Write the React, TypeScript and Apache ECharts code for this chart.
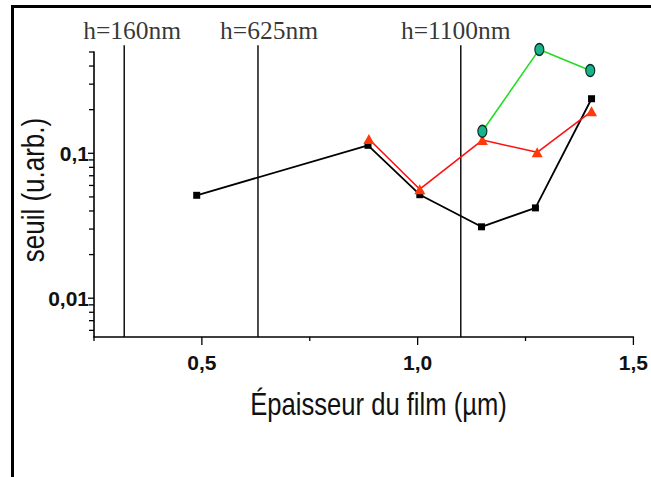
import React, { useEffect, useRef } from "react";
import * as echarts from "echarts";

// ---- data ----
const xMin = 0.25;
const xMax = 1.5;
const yMin = 0.0054;
const yMax = 0.5;

const thicknessBlack = [0.488, 0.885, 1.005, 1.148, 1.273, 1.403];
const seuilBlack = [0.0513, 0.1135, 0.0518, 0.0311, 0.042, 0.238];

const thicknessRed = [0.887, 1.005, 1.15, 1.277, 1.403];
const seuilRed = [0.1256, 0.0565, 0.1235, 0.1016, 0.195];

const thicknessGreen = [1.15, 1.282, 1.4];
const seuilGreen = [0.142, 0.521, 0.373];

const vlineX = [0.32, 0.63, 1.1];
const vlineTop = 0.556;
const vlineLabels = ["h=160nm", "h=625nm", "h=1100nm"];
const vlineLabelDx = [8, 11, -5];

const xMajorTicks = [0.5, 1.0, 1.5];
const xMajorLabels = ["0,5", "1,0", "1,5"];
const xMinorTicks = [0.25, 0.75, 1.25];

const yMajorTicks = [0.01, 0.1];
const yMajorLabels = ["0,01", "0,1"];
const yMinorTicks = [
  0.006, 0.007, 0.008, 0.009,
  0.02, 0.03, 0.04, 0.05, 0.06, 0.07, 0.08, 0.09,
  0.2, 0.3, 0.4, 0.5,
];

const xTitle = "Épaisseur du film (µm)";
const yTitle = "seuil (u.arb.)";

const SANS = "'Liberation Sans', Arial, Helvetica, sans-serif";
const SERIF = "'Liberation Serif', 'Times New Roman', serif";

export default function App() {
  const ref = useRef<HTMLDivElement>(null);

  useEffect(() => {
    if (!ref.current) return;
    const chart = echarts.init(ref.current, undefined, { renderer: "svg" });

    const xTickData = [
      ...xMajorTicks.map((v) => [v, yMin, 8]),
      ...xMinorTicks.map((v) => [v, yMin, 4]),
    ];
    const yTickData = [
      ...yMajorTicks.map((v) => [xMin, v, 6]),
      ...yMinorTicks.map((v) => [xMin, v, 5]),
    ];

    const vlineSeries = vlineX.map((x) => ({
      type: "line",
      data: [
        [x, yMin],
        [x, vlineTop],
      ],
      symbol: "none",
      clip: false,
      silent: true,
      lineStyle: { color: "#000", width: 1.4 },
      z: 1,
    }));

    const option: any = {
      animation: false,
      backgroundColor: "#fff",
      grid: { left: 94, top: 52, width: 540, height: 285, containLabel: false },
      xAxis: {
        type: "value",
        min: xMin,
        max: xMax,
        interval: 0.25,
        axisLine: { show: true, lineStyle: { color: "#000", width: 1.6 } },
        axisTick: { show: false },
        splitLine: { show: false },
        axisLabel: {
          margin: 15,
          fontFamily: SANS,
          fontWeight: "bold",
          fontSize: 21,
          color: "#111",
          formatter: (v: number) => {
            const i = xMajorTicks.findIndex((t) => Math.abs(t - v) < 1e-6);
            return i >= 0 ? xMajorLabels[i] : "";
          },
        },
      },
      yAxis: {
        type: "log",
        logBase: 10,
        min: yMin,
        max: yMax,
        axisLine: { show: true, lineStyle: { color: "#000", width: 1.6 } },
        axisTick: { show: false },
        splitLine: { show: false },
        axisLabel: {
          margin: 5,
          fontFamily: SANS,
          fontWeight: "bold",
          fontSize: 21,
          color: "#111",
          padding: [6, 0, 0, 0],
          formatter: (v: number) => {
            const i = yMajorTicks.findIndex(
              (t) => Math.abs(Math.log10(t) - Math.log10(v)) < 1e-6
            );
            return i >= 0 ? yMajorLabels[i] : "";
          },
        },
      },
      graphic: [
        {
          type: "rect",
          silent: true,
          shape: { x: 12.5, y: 6.5, width: 1000, height: 1000 },
          style: { fill: "none", stroke: "#000", lineWidth: 3 },
        },
        {
          type: "text",
          x: 378.5,
          y: 404,
          scaleY: 1.24,
          style: {
            text: xTitle,
            fontFamily: SANS,
            fontSize: 25.6,
            fill: "#111",
            textAlign: "center",
            textVerticalAlign: "middle",
          },
        },
        {
          type: "text",
          x: 32,
          y: 190,
          rotation: Math.PI / 2,
          scaleY: 1.24,
          style: {
            text: yTitle,
            fontFamily: SANS,
            fontSize: 26,
            fill: "#111",
            textAlign: "center",
            textVerticalAlign: "middle",
          },
        },
      ],
      series: [
        ...vlineSeries,
        {
          type: "scatter",
          symbolSize: 0,
          silent: true,
          clip: false,
          data: vlineX.map((x, i) => ({
            name: vlineLabels[i],
            value: [x, vlineTop],
            label: { offset: [vlineLabelDx[i], 0] },
          })),
          label: {
            show: true,
            position: "top",
            distance: 2,
            formatter: "{b}",
            fontFamily: SERIF,
            fontSize: 25.5,
            color: "#000",
          },
        },
        {
          type: "custom",
          silent: true,
          clip: false,
          data: xTickData,
          encode: { x: 0, y: 1 },
          renderItem: (params: any, api: any) => {
            const p = api.coord([api.value(0), api.value(1)]);
            const len = api.value(2);
            return {
              type: "line",
              shape: { x1: p[0], y1: p[1], x2: p[0], y2: p[1] + len },
              style: { stroke: "#000", lineWidth: 1.3 },
            };
          },
        },
        {
          type: "custom",
          silent: true,
          clip: false,
          data: yTickData,
          encode: { x: 0, y: 1 },
          renderItem: (params: any, api: any) => {
            const p = api.coord([api.value(0), api.value(1)]);
            const len = api.value(2);
            return {
              type: "line",
              shape: { x1: p[0], y1: p[1], x2: p[0] - len, y2: p[1] },
              style: { stroke: "#000", lineWidth: 1.3 },
            };
          },
        },
        {
          type: "line",
          name: "black",
          clip: false,
          data: thicknessBlack.map((x, i) => [x, seuilBlack[i]]),
          symbol: "rect",
          symbolSize: 7,
          showSymbol: true,
          itemStyle: { color: "#000" },
          lineStyle: { color: "#000", width: 1.8 },
          z: 3,
        },
        {
          type: "line",
          name: "red",
          clip: false,
          data: thicknessRed.map((x, i) => [x, seuilRed[i]]),
          symbol: "triangle",
          symbolSize: [11, 10],
          showSymbol: true,
          itemStyle: { color: "#ff3a0a" },
          lineStyle: { color: "#ff1010", width: 1.6 },
          z: 4,
        },
        {
          type: "line",
          name: "green",
          clip: false,
          data: thicknessGreen.map((x, i) => [x, seuilGreen[i]]),
          symbol: "path://M50,0 A50,50 0 1,1 50,100 A50,50 0 1,1 50,0 Z",
          symbolSize: [9, 12],
          showSymbol: true,
          itemStyle: { color: "#19b38b", borderColor: "#0b2a22", borderWidth: 1.3 },
          lineStyle: { color: "#22dd22", width: 1.6 },
          z: 5,
        },
      ],
    };

    chart.setOption(option);
    return () => {
      chart.dispose();
    };
  }, []);

  return (
    <div
      ref={ref}
      style={{
        position: "fixed",
        left: 0,
        top: 0,
        width: 651,
        height: 477,
        background: "#fff",
      }}
    />
  );
}
